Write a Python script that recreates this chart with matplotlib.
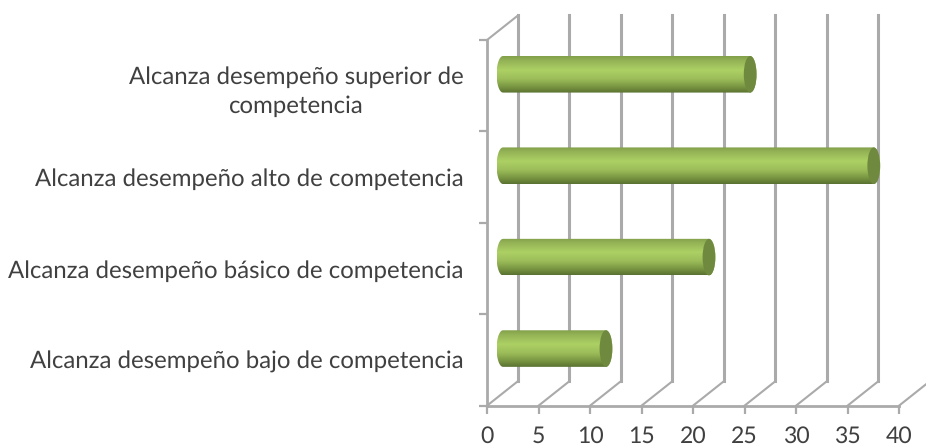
import numpy as np
import matplotlib
matplotlib.use('Agg')
import matplotlib.pyplot as plt
from matplotlib.colors import LinearSegmentedColormap
from matplotlib.patches import Ellipse, Polygon

categories = ['Alcanza desempeño bajo de competencia',
              'Alcanza desempeño básico de competencia',
              'Alcanza desempeño alto de competencia',
              'Alcanza desempeño superior de\ncompetencia']
values = [10, 20, 36, 24]
xticks = [0, 5, 10, 15, 20, 25, 30, 35, 40]

W, H = 926, 448
plt.rcParams['font.family'] = ['Lato', 'DejaVu Sans']
plt.rcParams['text.hinting'] = 'no_hinting'
plt.rcParams['text.hinting_factor'] = 1

fig = plt.figure(figsize=(W / 100, H / 100), dpi=100)
ax = fig.add_axes([487 / W, 1 - 405.7 / H, 412 / W, 365.7 / H])

grey = '#aaaaaa'
depth_x = 3.0    # back wall offset, x units
depth_y = 0.268  # back wall offset, category units

# back wall and floor lines
for v in xticks:
    ax.plot([v, v + depth_x], [0, depth_y], color=grey, lw=1.5, clip_on=False, zorder=1)
    if v < 40:
        ax.plot([v + depth_x] * 2, [depth_y, 4 + depth_y], color=grey, lw=2.2, clip_on=False, zorder=1)
ax.plot([0, depth_x], [4, 4 + depth_y], color=grey, lw=1.5, clip_on=False, zorder=1)

# cylinders
cmap = LinearSegmentedColormap.from_list('cyl', [
    (0.0, '#82a04a'), (0.1, '#92b155'), (0.38, '#add064'),
    (0.62, '#9cbd5a'), (0.85, '#779440'), (1.0, '#5a7232')])
grad = np.linspace(0, 1, 64).reshape(-1, 1)
x0 = 1.55
rx = 0.62
ry = 0.2
for i, v in enumerate(values):
    yc = i + 0.5 + 0.125
    t = np.linspace(np.pi / 2, 3 * np.pi / 2, 30)
    left = np.column_stack([x0 + rx * np.cos(t), yc + ry * np.sin(t)])
    right = np.column_stack([x0 + v + rx * np.cos(t + np.pi), yc + ry * np.sin(t + np.pi)])
    outline = Polygon(np.vstack([left, right]), closed=True, transform=ax.transData)
    im = ax.imshow(grad, cmap=cmap, aspect='auto', zorder=3,
                   extent=[x0 - rx, x0 + v + rx, yc - ry, yc + ry], clip_on=True)
    im.set_clip_path(outline)
    ax.add_patch(Ellipse((x0 + v, yc), 2 * rx, 2 * ry, facecolor='#6f8a3e',
                         edgecolor='none', zorder=4, clip_on=False))

ax.set_xlim(0, 40)
ax.set_ylim(0, 4)

for s in ['top', 'right']:
    ax.spines[s].set_visible(False)
for s in ['left', 'bottom']:
    ax.spines[s].set_color(grey)
    ax.spines[s].set_linewidth(2)

ax.set_xticks(xticks)
ax.set_xticklabels([str(v) for v in xticks])
ax.set_yticks(np.arange(len(categories)) + 0.5)
ax.set_yticklabels(categories, multialignment='center', linespacing=1.42)
ax.set_yticks(np.arange(5), minor=True)
ax.tick_params(axis='x', length=5.8, width=1.6, color=grey, pad=9, labelsize=16.5, labelcolor='#404040')
ax.tick_params(axis='y', which='major', length=0, pad=17, labelsize=17, labelcolor='#404040')
ax.tick_params(axis='y', which='minor', length=5.8, width=1.6, color=grey)
ax.set_facecolor('none')

fig.savefig('out.png', dpi=100)
